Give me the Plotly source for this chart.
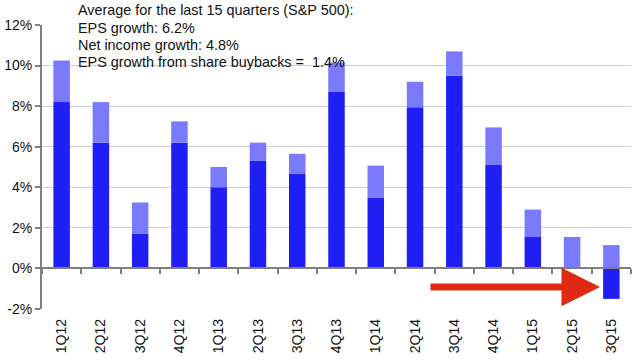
import plotly.graph_objects as go

quarters = ["1Q12", "2Q12", "3Q12", "4Q12", "1Q13", "2Q13", "3Q13", "4Q13",
            "1Q14", "2Q14", "3Q14", "4Q14", "1Q15", "2Q15", "3Q15"]
# Net income growth (%)
net_income_growth = [8.2, 6.2, 1.72, 6.2, 4.0, 5.3, 4.65, 8.7,
                     3.5, 7.95, 9.5, 5.1, 1.55, 0.05, -1.5]
# EPS growth from share buybacks (%)
buyback_growth = [2.05, 2.0, 1.53, 1.05, 1.0, 0.9, 1.0, 1.45,
                  1.57, 1.25, 1.2, 1.85, 1.35, 1.5, 1.15]
y_ticks = [-2, 0, 2, 4, 6, 8, 10, 12]
y_tick_text = ["-2%", "0%", "2%", "4%", "6%", "8%", "10%", "12%"]
note_lines = ["Average for the last 15 quarters (S&P 500):",
              "EPS growth: 6.2%",
              "Net income growth: 4.8%",
              "EPS growth from share buybacks =  1.4%"]

DARK = "#1f1ff5"
LIGHT = "#7a7aff"
FONT = "Liberation Sans, Arial, sans-serif"

fig = go.Figure()
fig.add_trace(go.Bar(x=quarters, y=net_income_growth, marker_color=DARK,
                     marker_line_width=0, width=0.42, name="Net income growth"))
fig.add_trace(go.Bar(x=quarters, y=buyback_growth, marker_color=LIGHT,
                     marker_line_width=0, width=0.42, name="Buybacks"))

fig.update_layout(
    width=640, height=360,
    margin=dict(l=42, r=9, t=25, b=51, autoexpand=False),
    barmode="relative",
    plot_bgcolor="white", paper_bgcolor="white",
    showlegend=False,
    font=dict(family=FONT, color="#111111"),
    xaxis=dict(
        type="category", anchor="free", position=2 / 14, automargin=False,
        showline=True, linecolor="#7f7f7f", linewidth=2,
        ticks="outside", tickson="boundaries", ticklen=5, tickwidth=2,
        tickcolor="#7f7f7f", tickangle=-90, tickfont=dict(size=14, family=FONT),
        ticklabelstandoff=44, showgrid=False, range=[-0.5, 14.5],
    ),
    yaxis=dict(
        range=[-2, 12], tickvals=y_ticks, ticktext=y_tick_text, automargin=False,
        showline=True, linecolor="#7f7f7f", linewidth=2,
        ticks="outside", ticklen=5, tickwidth=2, tickcolor="#7f7f7f",
        showgrid=True, gridcolor="#cccccc", gridwidth=1,
        zeroline=False, tickfont=dict(size=14, family=FONT),
    ),
)

line_y = [10, 28, 45, 62]
for txt, py in zip(note_lines, line_y):
    fig.add_annotation(text=txt, xref="paper", yref="paper",
                       x=(76 - 42) / 589, y=(309 - py) / 284,
                       xanchor="left", yanchor="middle", showarrow=False,
                       font=dict(size=14.4, family=FONT, color="#111111"))

fig.add_annotation(text="", xref="paper", yref="y", x=(600 - 42) / 589, y=-0.92,
                   ax=-171, ay=0, axref="pixel", ayref="pixel",
                   showarrow=True, arrowhead=2, arrowsize=1.1, arrowwidth=7,
                   arrowcolor="#dd2a10", standoff=0)

fig.write_html("out.html", config={"displayModeBar": False},
               post_script="document.body.style.margin='0';document.body.style.overflow='hidden';")
